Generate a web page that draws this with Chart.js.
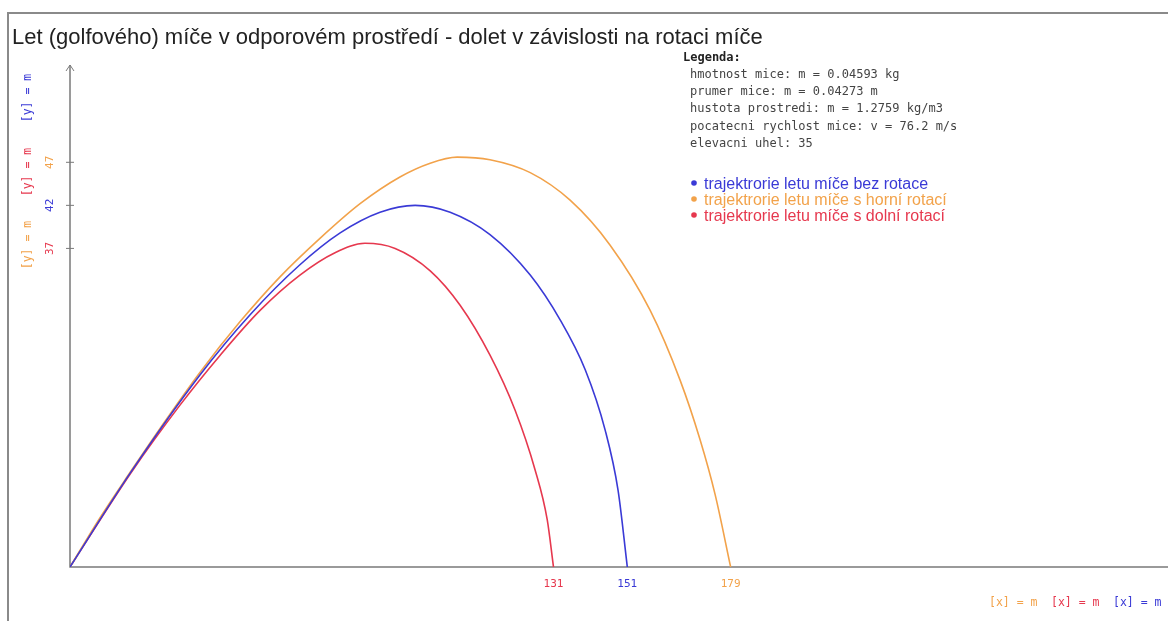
<!DOCTYPE html>
<html>
<head>
<meta charset="utf-8">
<script src="https://cdn.jsdelivr.net/npm/chart.js@4/dist/chart.umd.min.js"></script>
<style>
  html, body { margin: 0; padding: 0; background: #fff; }
  canvas { display: block; }
</style>
</head>
<body>
<canvas id="trajektorie" width="1168" height="621"></canvas>
<script>
// data (x = distance [m], y = height [m])
var bezRotaceX = [0, 16.3, 35.2, 48.8, 62.3, 73.2, 84.0, 93.5, 103.0, 113.8, 124.7, 132.8, 139.6, 145.0, 148.5, 151];
var bezRotaceY = [0, 10.9, 22.3, 29.3, 35.1, 38.8, 41.2, 42.0, 41.2, 38.6, 33.9, 28.7, 22.9, 15.9, 8.9, 0];

var horniRotaceX = [0, 8.1, 16.3, 24.4, 35.2, 46.1, 56.9, 67.8, 78.6, 89.4, 97.6, 104.9, 113.8, 124.7, 135.5, 146.3, 157.2, 165.3, 170.7, 174.8, 179];
var horniRotaceY = [0, 5.7, 11.0, 16.1, 22.6, 28.5, 33.7, 38.2, 42.2, 45.3, 46.9, 47.6, 47.3, 45.8, 42.6, 37.4, 29.8, 21.7, 14.8, 8.4, 0];

var dolniRotaceX = [0, 16.3, 29.8, 40.7, 51.5, 62.3, 71.8, 79.9, 88.1, 97.6, 105.7, 113.8, 120.6, 126.0, 129.3, 131];
var dolniRotaceY = [0, 10.8, 18.8, 24.6, 29.8, 33.9, 36.5, 37.6, 37.0, 34.4, 30.4, 24.6, 18.2, 11.3, 5.5, 0];

var xTicks = [131, 151, 179];
var yTicks = [47, 42, 37];

var legendLabels = [
  "trajektrorie letu míče bez rotace",
  "trajektrorie letu míče s horní rotací",
  "trajektrorie letu míče s dolní rotací"
];
var infoLines = [
  "hmotnost mice: m = 0.04593 kg",
  "prumer mice: m = 0.04273 m",
  "hustota prostredi: m = 1.2759 kg/m3",
  "pocatecni rychlost mice: v = 76.2 m/s",
  "elevacni uhel: 35"
];

var BLUE = "#3a3ad6", ORANGE = "#f2a24a", RED = "#e6384e";
var seriesColors = [BLUE, ORANGE, RED];
var xTickColors = [RED, BLUE, ORANGE];
var yTickColors = [ORANGE, BLUE, RED];

function zip(xs, ys) {
  return xs.map(function (x, i) { return { x: x, y: ys[i] }; });
}

var axesPlugin = {
  id: 'kresba',
  beforeDatasetsDraw: function (chart) {
    var c = chart.ctx, xs = chart.scales.x, ys = chart.scales.y;
    var x0 = xs.getPixelForValue(0), y0 = ys.getPixelForValue(0);
    c.save();
    // frame
    c.strokeStyle = "#8a8a8a";
    c.lineWidth = 2;
    c.beginPath();
    c.moveTo(8, 621); c.lineTo(8, 13); c.lineTo(1168, 13);
    c.stroke();
    // axes
    c.strokeStyle = "#7a7a7a";
    c.lineWidth = 1.5;
    c.beginPath();
    c.moveTo(x0, ys.getPixelForValue(ys.max));
    c.lineTo(x0, y0);
    c.lineTo(xs.getPixelForValue(xs.max), y0);
    c.stroke();
    // arrow
    var yt = ys.getPixelForValue(ys.max);
    c.lineWidth = 1;
    c.beginPath();
    c.moveTo(x0 - 4, yt + 6); c.lineTo(x0, yt); c.lineTo(x0 + 4, yt + 6);
    c.stroke();
    // y ticks
    yTicks.forEach(function (v) {
      var p = ys.getPixelForValue(v);
      c.beginPath();
      c.moveTo(x0 - 4, p); c.lineTo(x0 + 4, p);
      c.stroke();
    });
    c.restore();
  },
  afterDraw: function (chart) {
    var c = chart.ctx, xs = chart.scales.x, ys = chart.scales.y;
    var y0 = ys.getPixelForValue(0);
    c.save();
    // title
    c.fillStyle = "#222";
    c.font = "22px 'Liberation Sans', Arial, sans-serif";
    c.textBaseline = "alphabetic";
    c.fillText("Let (golfového) míče v odporovém prostředí - dolet v závislosti na rotaci míče", 12, 44);

    // x tick labels
    c.font = "11px 'DejaVu Sans Mono', monospace";
    c.textAlign = "center";
    xTicks.forEach(function (v, i) {
      c.fillStyle = xTickColors[i];
      c.fillText(String(v), xs.getPixelForValue(v), y0 + 20);
    });

    // y tick labels (rotated)
    yTicks.forEach(function (v, i) {
      c.save();
      c.translate(53, ys.getPixelForValue(v));
      c.rotate(-Math.PI / 2);
      c.fillStyle = yTickColors[i];
      c.fillText(String(v), 0, 0);
      c.restore();
    });

    // y unit labels (rotated)
    c.font = "11.5px 'DejaVu Sans Mono', monospace";
    var unitY = [98, 172, 245];
    [BLUE, RED, ORANGE].forEach(function (col, i) {
      c.save();
      c.translate(31, unitY[i]);
      c.rotate(-Math.PI / 2);
      c.fillStyle = col;
      c.fillText("[y] = m", 0, 0);
      c.restore();
    });

    // x unit labels
    c.textAlign = "left";
    [ORANGE, RED, BLUE].forEach(function (col, i) {
      c.fillStyle = col;
      c.fillText("[x] = m", 989 + i * 62, 606);
    });

    // info box
    c.fillStyle = "#222";
    c.font = "bold 12px 'DejaVu Sans Mono', monospace";
    c.fillText("Legenda:", 683, 61);
    c.font = "12px 'DejaVu Sans Mono', monospace";
    c.fillStyle = "#444";
    infoLines.forEach(function (t, i) {
      c.fillText(t, 690, 78 + i * 17.2);
    });

    // series legend
    c.font = "16px 'Liberation Sans', Arial, sans-serif";
    legendLabels.forEach(function (t, i) {
      var yy = 183 + i * 16;
      c.fillStyle = seriesColors[i];
      c.beginPath();
      c.arc(694, yy, 2.8, 0, Math.PI * 2);
      c.fill();
      c.fillText(t, 704, yy + 5.5);
    });
    c.restore();
  }
};

new Chart(document.getElementById("trajektorie").getContext('2d'), {
  type: 'scatter',
  plugins: [axesPlugin],
  data: {
    datasets: [{
      label: legendLabels[0],
      data: zip(bezRotaceX, bezRotaceY),
      borderColor: BLUE
    }, {
      label: legendLabels[1],
      data: zip(horniRotaceX, horniRotaceY),
      borderColor: ORANGE
    }, {
      label: legendLabels[2],
      data: zip(dolniRotaceX, dolniRotaceY),
      borderColor: RED
    }]
  },
  options: {
    responsive: false,
    animation: false,
    devicePixelRatio: 1,
    showLine: true,
    elements: {
      point: { radius: 0, hoverRadius: 0 },
      line: { borderWidth: 1.6, tension: 0.4, cubicInterpolationMode: 'monotone' }
    },
    layout: { padding: { left: 70, top: 65, right: 0, bottom: 54 } },
    scales: {
      x: { type: 'linear', min: 0, max: 297.5, display: false },
      y: { type: 'linear', min: 0, max: 58.3, display: false }
    },
    plugins: {
      legend: { display: false },
      title: { display: false },
      tooltip: { enabled: false }
    }
  }
});
</script>
</body>
</html>
